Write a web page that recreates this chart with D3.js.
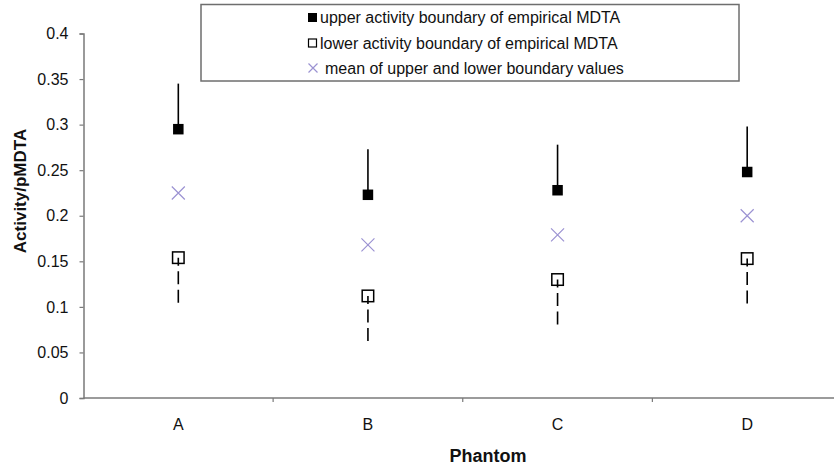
<!DOCTYPE html>
<html>
<head>
<meta charset="utf-8">
<script src="https://cdn.jsdelivr.net/npm/d3@7"></script>
<style>
body { margin: 0; background: #fff; }
text { font-family: "Liberation Sans", Arial, sans-serif; }
</style>
</head>
<body>
<div id="chart"></div>
<script>
// data
const phantoms = ["A", "B", "C", "D"]
const upper = [0.295, 0.223, 0.228, 0.248]
const lower = [0.154, 0.112, 0.130, 0.153]
const meanVals = [0.225, 0.168, 0.179, 0.200]
const upperErr = [0.05, 0.05, 0.05, 0.05]
const lowerErr = [0.05, 0.05, 0.05, 0.05]
const yTicks = [0, 0.05, 0.1, 0.15, 0.2, 0.25, 0.3, 0.35, 0.4]
const yTickLabels = ["0", "0.05", "0.1", "0.15", "0.2", "0.25", "0.3", "0.35", "0.4"]
const legendLabels = ["upper activity boundary of empirical MDTA",
	"lower activity boundary of empirical MDTA",
	"mean of upper and lower boundary values"]

const W = 834, H = 468
const axis_color = "#7a7a7a"
const mean_color = "#9b92d2"

svg = d3.select("#chart").append("svg")
	.attr("width", W)
	.attr("height", H)

const y = d3.scaleLinear().domain([0, 0.4]).range([398, 33.5])
const x = d3.scaleBand().domain(phantoms).range([83.5, 842])

// y axis
const yAxis = d3.axisLeft(y)
	.tickValues(yTicks)
	.tickFormat((d, i) => yTickLabels[i])
	.tickSize(4)
	.tickPadding(11)
const gy = svg.append("g")
	.attr("transform", "translate(" + x.range()[0] + ",0)")
	.call(yAxis)
gy.select(".domain").attr("stroke", axis_color).attr("stroke-width", 1.5)
gy.selectAll(".tick line").attr("stroke", axis_color).attr("stroke-width", 1.2)
gy.selectAll(".tick text")
	.attr("font-size", 16)
	.attr("font-family", "Liberation Sans, Arial, sans-serif")
	.attr("fill", "#111")

// x axis: baseline, ticks between categories, labels at centres
svg.append("line")
	.attr("x1", x.range()[0]).attr("x2", x.range()[1])
	.attr("y1", y(0)).attr("y2", y(0))
	.attr("stroke", axis_color)
	.attr("stroke-width", 1.5)
phantoms.slice(1).forEach(function(p){
	svg.append("line")
		.attr("x1", x(p)).attr("x2", x(p))
		.attr("y1", y(0)).attr("y2", y(0) + 4)
		.attr("stroke", axis_color)
		.attr("stroke-width", 1.2)
})
svg.selectAll(".xlab")
	.data(phantoms)
	.enter().append("text")
	.attr("class", "xlab")
	.attr("x", d => x(d) + x.bandwidth() / 2)
	.attr("y", 430)
	.attr("text-anchor", "middle")
	.attr("font-size", 16)
	.attr("fill", "#111")
	.text(d => d)

// axis titles
svg.append("text")
	.attr("x", 488)
	.attr("y", 462)
	.attr("text-anchor", "middle")
	.attr("font-size", 18)
	.attr("font-weight", "bold")
	.attr("fill", "#111")
	.text("Phantom")
svg.append("text")
	.attr("transform", "translate(26,191) rotate(-90)")
	.attr("text-anchor", "middle")
	.attr("font-size", 17)
	.attr("font-weight", "bold")
	.attr("fill", "#111")
	.text("Activity/pMDTA")

const cx = d => x(d) + x.bandwidth() / 2

// upper error bars (solid, going up)
phantoms.forEach(function(p, i){
	svg.append("line")
		.attr("x1", cx(p)).attr("x2", cx(p))
		.attr("y1", y(upper[i])).attr("y2", y(upper[i] + upperErr[i]))
		.attr("stroke", "#000")
		.attr("stroke-width", 1.6)
})
// lower error bars (dashed, going down)
phantoms.forEach(function(p, i){
	svg.append("line")
		.attr("x1", cx(p)).attr("x2", cx(p))
		.attr("y1", y(lower[i])).attr("y2", y(lower[i] - lowerErr[i]))
		.attr("stroke", "#000")
		.attr("stroke-width", 1.6)
		.attr("stroke-dasharray", "13,5.5")
		.attr("stroke-dashoffset", 5)
})

const sq = 10.5, hq = 11.5
svg.selectAll(".up")
	.data(upper)
	.enter().append("rect")
	.attr("class", "up")
	.attr("x", (d, i) => cx(phantoms[i]) - sq / 2)
	.attr("y", d => y(d) - sq / 2)
	.attr("width", sq).attr("height", sq)
	.attr("fill", "#000")
svg.selectAll(".low")
	.data(lower)
	.enter().append("rect")
	.attr("class", "low")
	.attr("x", (d, i) => cx(phantoms[i]) - hq / 2)
	.attr("y", d => y(d) - hq / 2)
	.attr("width", hq).attr("height", hq)
	.attr("fill", "none")
	.attr("stroke", "#000")
	.attr("stroke-width", 1.5)

function cross(g, px, py, r){
	g.append("path")
		.attr("d", "M" + (px - r) + "," + (py - r) + "L" + (px + r) + "," + (py + r) +
			"M" + (px - r) + "," + (py + r) + "L" + (px + r) + "," + (py - r))
		.attr("stroke", mean_color)
		.attr("stroke-width", 1.2)
		.attr("fill", "none")
}
meanVals.forEach(function(v, i){
	cross(svg, cx(phantoms[i]), y(v), 6.5)
})

// legend
const leg = svg.append("g")
leg.append("rect")
	.attr("x", 201).attr("y", 4.5)
	.attr("width", 538).attr("height", 76.5)
	.attr("fill", "#fff")
	.attr("stroke", "#6e6e6e")
	.attr("stroke-width", 1.5)
const rows = [17.5, 43, 68]
leg.append("rect")
	.attr("x", 308).attr("y", rows[0] - 4.5)
	.attr("width", 9).attr("height", 9)
	.attr("fill", "#000")
leg.append("rect")
	.attr("x", 308.5).attr("y", rows[1] - 4)
	.attr("width", 8).attr("height", 8)
	.attr("fill", "none")
	.attr("stroke", "#000")
	.attr("stroke-width", 1.2)
cross(leg, 313, rows[2], 4.5)
leg.selectAll(".legtext")
	.data(legendLabels)
	.enter().append("text")
	.attr("class", "legtext")
	.attr("x", (d, i) => i == 2 ? 325 : 320)
	.attr("y", (d, i) => rows[i] + 5.5)
	.attr("font-size", 16)
	.attr("fill", "#111")
	.text(d => d)
</script>
</body>
</html>
